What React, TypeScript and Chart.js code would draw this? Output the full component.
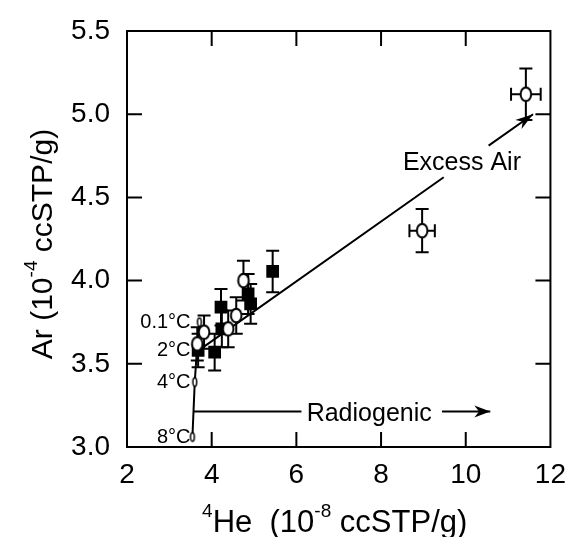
import React, { useEffect, useRef } from "react";
import { Chart, registerables } from "chart.js";

Chart.register(...registerables);

// Axis ranges / ticks
const xTickValues = [2, 4, 6, 8, 10, 12];
const yTickValues = [3.0, 3.5, 4.0, 4.5, 5.0, 5.5];

// Open symbols (ellipses) with error bars
const openX = [11.42, 8.97, 4.75, 4.58, 4.39, 3.82, 3.66];
const openY = [5.12, 4.30, 4.00, 3.79, 3.71, 3.69, 3.62];
const openXErr = [0.35, 0.30, 0, 0, 0, 0, 0];
const openYErr = [0.155, 0.13, 0.12, 0.11, 0.11, 0.10, 0.10];

// Filled squares with error bars
const filledX = [5.44, 4.86, 4.92, 4.22, 4.24, 4.07, 3.68];
const filledY = [4.055, 3.92, 3.86, 3.84, 3.71, 3.57, 3.58];
const filledYErr = [0.125, 0.12, 0.12, 0.11, 0.11, 0.11, 0.10];

// Equilibrium (temperature) line
const eqX = [3.545, 3.60, 3.65, 3.71];
const eqY = [3.06, 3.39, 3.58, 3.75];
const eqLabels = ["8°C", "4°C", "2°C", "0.1°C"];
const eqLabelX = 3.5;

// Excess air line (gap for label)
const excessX = [3.66, 9.48, 9.5, 10.54, 11.59];
const excessY = [3.575, 4.621, null, 4.811, 5.0];
const excessLabel = "Excess Air";
const excessLabelPos = [9.91, 4.706];

// Radiogenic line (gap for label)
const radioX = [3.57, 6.12, 7.0, 9.44, 10.58];
const radioY = [3.214, 3.214, null, 3.214, 3.214];
const radioLabel = "Radiogenic";
const radioLabelPos = [7.72, 3.2];

// Axis titles: [text, isSuperscript]
const xTitleParts: [string, boolean][] = [["4", true], ["He  (10", false], ["-8", true], [" ccSTP/g)", false]];
const yTitleParts: [string, boolean][] = [["Ar (10", false], ["-4", true], [" ccSTP/g)", false]];

const FONT = "'Liberation Sans', Arial, Helvetica, sans-serif";

function pts(xs: number[], ys: (number | null)[]) {
  return xs.map((x, i) => ({ x, y: ys[i] as any }));
}

function makeEllipse(w: number, h: number, rx: number, ry: number, lw: number) {
  const c = document.createElement("canvas");
  c.width = w;
  c.height = h;
  const g = c.getContext("2d")!;
  g.beginPath();
  g.ellipse(w / 2, h / 2, rx, ry, 0, 0, Math.PI * 2);
  g.fillStyle = "#fff";
  g.fill();
  g.lineWidth = lw;
  g.strokeStyle = "#000";
  g.stroke();
  return c;
}

function arrowHead(ctx: CanvasRenderingContext2D, x0: number, y0: number, x1: number, y1: number, L: number, W: number) {
  const a = Math.atan2(y1 - y0, x1 - x0);
  const ux = Math.cos(a), uy = Math.sin(a);
  const nx = -uy, ny = ux;
  ctx.beginPath();
  ctx.moveTo(x1, y1);
  ctx.lineTo(x1 - ux * L + nx * W, y1 - uy * L + ny * W);
  ctx.lineTo(x1 - ux * L * 0.7, y1 - uy * L * 0.7);
  ctx.lineTo(x1 - ux * L - nx * W, y1 - uy * L - ny * W);
  ctx.closePath();
  ctx.fill();
}

// draw text with superscripts, centered on (cx) with baseline at 0 in local coords
function drawRich(ctx: CanvasRenderingContext2D, parts: [string, boolean][], size: number, supSize: number, raise: number) {
  const fonts = parts.map(([, sup]) => `${sup ? supSize : size}px ${FONT}`);
  let total = 0;
  const widths = parts.map(([t], i) => {
    ctx.font = fonts[i];
    const w = ctx.measureText(t).width;
    total += w;
    return w;
  });
  let x = -total / 2;
  ctx.textAlign = "left";
  ctx.textBaseline = "alphabetic";
  parts.forEach(([t, sup], i) => {
    ctx.font = fonts[i];
    ctx.fillText(t, x, sup ? -raise : 0);
    x += widths[i];
  });
}

export default function App() {
  const ref = useRef<HTMLCanvasElement>(null);

  useEffect(() => {
    const canvas = ref.current!;
    const bigEllipse = makeEllipse(16, 19, 5.3, 6.8, 2);
    const smallEllipse = makeEllipse(8, 13, 1.9, 4.2, 1.5);

    const errorBars = {
      id: "errorBars",
      beforeDatasetsDraw(chart: any) {
        const { ctx, scales } = chart;
        const xs = scales.x, ys = scales.y;
        ctx.save();
        ctx.strokeStyle = "#000";
        ctx.lineWidth = 2;
        const cap = 6.5;
        const drawSet = (X: number[], Y: number[], XE: number[] | null, YE: number[]) => {
          X.forEach((xv, i) => {
            const px = xs.getPixelForValue(xv);
            const py = ys.getPixelForValue(Y[i]);
            const ye = YE[i];
            if (ye > 0) {
              const t = ys.getPixelForValue(Y[i] + ye);
              const b = ys.getPixelForValue(Y[i] - ye);
              ctx.beginPath();
              ctx.moveTo(px, t); ctx.lineTo(px, b);
              ctx.moveTo(px - cap, t); ctx.lineTo(px + cap, t);
              ctx.moveTo(px - cap, b); ctx.lineTo(px + cap, b);
              ctx.stroke();
            }
            const xe = XE ? XE[i] : 0;
            if (xe > 0) {
              const l = xs.getPixelForValue(xv - xe);
              const r = xs.getPixelForValue(xv + xe);
              ctx.beginPath();
              ctx.moveTo(l, py); ctx.lineTo(r, py);
              ctx.moveTo(l, py - cap); ctx.lineTo(l, py + cap);
              ctx.moveTo(r, py - cap); ctx.lineTo(r, py + cap);
              ctx.stroke();
            }
          });
        };
        drawSet(filledX, filledY, null, filledYErr);
        drawSet(openX, openY, openXErr, openYErr);
        ctx.restore();
      },
    };

    const annotations = {
      id: "annotations",
      afterDatasetsDraw(chart: any) {
        const { ctx, scales } = chart;
        const xs = scales.x, ys = scales.y;
        ctx.save();
        ctx.fillStyle = "#000";
        const n = excessX.length - 1;
        arrowHead(ctx,
          xs.getPixelForValue(excessX[n - 1]), ys.getPixelForValue(excessY[n - 1] as number),
          xs.getPixelForValue(excessX[n]), ys.getPixelForValue(excessY[n] as number), 18, 5.5);
        const m = radioX.length - 1;
        arrowHead(ctx,
          xs.getPixelForValue(radioX[m - 1]), ys.getPixelForValue(radioY[m - 1] as number),
          xs.getPixelForValue(radioX[m]), ys.getPixelForValue(radioY[m] as number), 16, 6);
        ctx.textBaseline = "middle";
        ctx.textAlign = "center";
        ctx.font = `25px ${FONT}`;
        ctx.fillText(excessLabel, xs.getPixelForValue(excessLabelPos[0]), ys.getPixelForValue(excessLabelPos[1]));
        ctx.fillText(radioLabel, xs.getPixelForValue(radioLabelPos[0]), ys.getPixelForValue(radioLabelPos[1]));
        ctx.textAlign = "right";
        ctx.font = `20px ${FONT}`;
        eqLabels.forEach((lab, i) => {
          ctx.fillText(lab, xs.getPixelForValue(eqLabelX), ys.getPixelForValue(eqY[i]));
        });
        ctx.restore();
      },
    };

    const frame = {
      id: "frame",
      afterDraw(chart: any) {
        const { ctx, chartArea: a, scales } = chart;
        const xs = scales.x, ys = scales.y;
        ctx.save();
        ctx.strokeStyle = "#000";
        ctx.lineWidth = 2;
        ctx.strokeRect(a.left, a.top, a.right - a.left, a.bottom - a.top);
        const L = 15;
        ctx.beginPath();
        xTickValues.slice(1, -1).forEach((v) => {
          const p = xs.getPixelForValue(v);
          ctx.moveTo(p, a.bottom); ctx.lineTo(p, a.bottom - L);
          ctx.moveTo(p, a.top); ctx.lineTo(p, a.top + L);
        });
        yTickValues.slice(1, -1).forEach((v) => {
          const p = ys.getPixelForValue(v);
          ctx.moveTo(a.left, p); ctx.lineTo(a.left + L, p);
          ctx.moveTo(a.right, p); ctx.lineTo(a.right - L, p);
        });
        ctx.stroke();

        // axis titles with superscripts
        ctx.fillStyle = "#000";
        ctx.save();
        ctx.translate((a.left + a.right) / 2 - 4, 531.5);
        drawRich(ctx, xTitleParts, 31, 19, 15);
        ctx.restore();
        ctx.save();
        ctx.translate(52, (a.top + a.bottom) / 2 + 5);
        ctx.rotate(-Math.PI / 2);
        drawRich(ctx, yTitleParts, 30, 19, 15);
        ctx.restore();
        ctx.restore();
      },
    };

    const chart = new Chart(canvas, {
      type: "scatter",
      data: {
        datasets: [
          {
            label: "open",
            data: pts(openX, openY),
            pointStyle: bigEllipse as any,
            pointRadius: 8,
            order: 0,
          },
          {
            label: "filled",
            data: pts(filledX, filledY),
            pointStyle: "rect",
            pointRadius: 9,
            backgroundColor: "#000",
            borderColor: "#000",
            borderWidth: 0,
            order: 1,
          },
          {
            label: "equilibrium",
            data: pts(eqX, eqY),
            showLine: true,
            borderColor: "#000",
            borderWidth: 2,
            pointStyle: smallEllipse as any,
            pointRadius: 5,
            order: 2,
          },
          {
            label: "excess",
            data: pts(excessX, excessY),
            showLine: true,
            spanGaps: false,
            borderColor: "#000",
            borderWidth: 2,
            pointRadius: 0,
            order: 3,
          },
          {
            label: "radiogenic",
            data: pts(radioX, radioY),
            showLine: true,
            spanGaps: false,
            borderColor: "#000",
            borderWidth: 2,
            pointRadius: 0,
            order: 4,
          },
        ],
      },
      options: {
        responsive: false,
        animation: false,
        events: [],
        layout: { padding: { left: 0, top: 23.5, right: 27.7, bottom: 0 } },
        plugins: { legend: { display: false }, tooltip: { enabled: false } },
        scales: {
          x: {
            type: "linear",
            min: 2,
            max: 12,
            afterFit: (s: any) => { s.height = 90; },
            afterBuildTicks: (s: any) => { s.ticks = xTickValues.map((v) => ({ value: v })); },
            grid: { display: false, drawTicks: false },
            border: { display: false },
            ticks: {
              color: "#000",
              padding: 14,
              font: { family: FONT, size: 28, lineHeight: 1 },
              callback: (v: any) => String(v),
            },
            title: { display: false },
          },
          y: {
            type: "linear",
            min: 3,
            max: 5.5,
            afterFit: (s: any) => { s.width = 127; },
            afterBuildTicks: (s: any) => { s.ticks = yTickValues.map((v) => ({ value: v })); },
            grid: { display: false, drawTicks: false },
            border: { display: false },
            ticks: {
              color: "#000",
              padding: 17,
              font: { family: FONT, size: 28, lineHeight: 1 },
              callback: (v: any) => Number(v).toFixed(1),
            },
            title: { display: false },
          },
        },
      },
      plugins: [errorBars, annotations, frame],
    } as any);

    return () => chart.destroy();
  }, []);

  return (
    <div style={{ position: "absolute", left: 0, top: 0, width: 580, height: 537, background: "#fff" }}>
      <canvas ref={ref} width={580} height={537} style={{ display: "block" }} />
    </div>
  );
}
